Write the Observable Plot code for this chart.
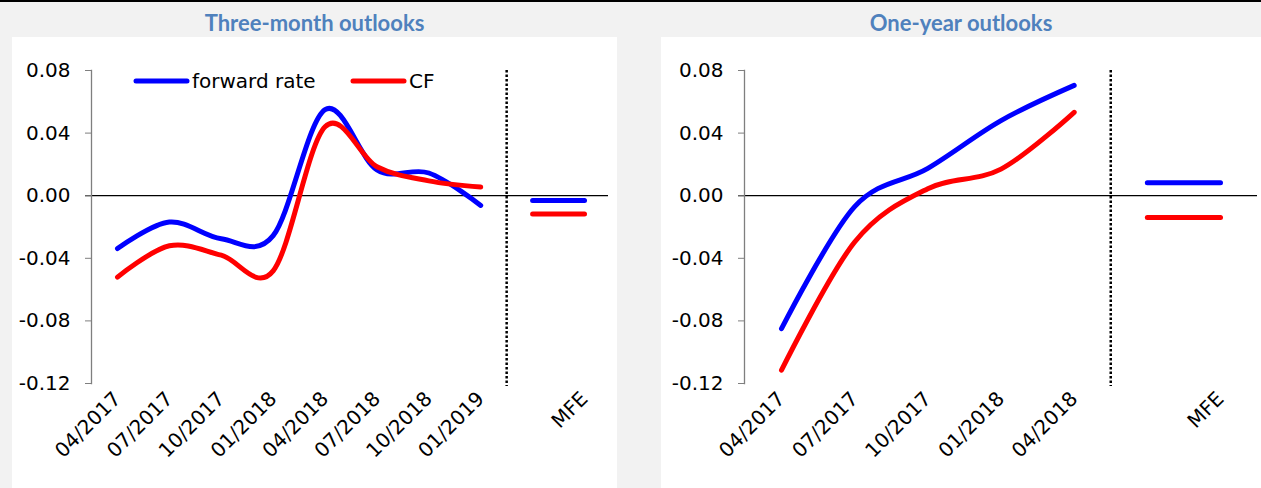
<!DOCTYPE html>
<html><head><meta charset="utf-8">
<script src="https://cdn.jsdelivr.net/npm/d3@7"></script>
<script src="https://cdn.jsdelivr.net/npm/@observablehq/plot@0.6"></script>
<style>
html,body{margin:0;padding:0;}
body{width:1261px;height:488px;background:#f2f2f2;position:relative;overflow:hidden;font-family:"DejaVu Sans",sans-serif;}
#topline{position:absolute;left:0;top:0;width:1261px;height:2px;background:#000;}
.panel{position:absolute;top:37px;height:451px;background:#fff;}
.title{position:absolute;top:8px;height:30px;line-height:30px;text-align:center;font-family:Lato,"Open Sans",sans-serif;font-weight:bold;color:#4f81bd;font-size:22px;}
.legend{position:absolute;left:121px;top:32px;display:flex;font-family:"DejaVu Sans",sans-serif;font-size:20px;color:#000;}
.legend .item{display:flex;align-items:center;width:217px;}
.legend svg{display:block;margin-right:2px;}
svg text{font-family:"DejaVu Sans",sans-serif;}
</style>
</head><body>
<div id="topline"></div>
<div class="title" id="t1" style="left:12px;width:605px;"></div>
<div class="title" id="t2" style="left:661px;width:600px;"></div>
<div class="panel" id="p1" style="left:12px;width:605px;"></div>
<div class="panel" id="p2" style="left:661px;width:600px;"></div>
<script>
// ---- data ----
const titles = ["Three-month outlooks", "One-year outlooks"];
const seriesNames = ["forward rate", "CF"];
const seriesColors = ["#0000ff", "#ff0000"];
const yTicks = [-0.12, -0.08, -0.04, 0, 0.04, 0.08];
const mfeLabel = "MFE";

const dates3m = ["04/2017","07/2017","10/2017","01/2018","04/2018","07/2018","10/2018","01/2019"];
const forward3m = [-0.0338, -0.0168, -0.0275, -0.0255, 0.0550, 0.0165, 0.0145, -0.0062];
const cf3m      = [-0.0520, -0.0320, -0.0380, -0.0480, 0.0440, 0.0185, 0.0095, 0.0055];
const mfeForward3m = -0.0030;
const mfeCf3m = -0.0117;

const dates1y = ["04/2017","07/2017","10/2017","01/2018","04/2018"];
const forward1y = [-0.0850, -0.0070, 0.0175, 0.0480, 0.0705];
const cf1y      = [-0.1115, -0.0296, 0.0045, 0.0170, 0.0533];
const mfeForward1y = 0.0083;
const mfeCf1y = -0.0140;

// ---- chart builder ----
function chart({dates, fwd, cf, mfeF, mfeC, width, marginLeft, marginRight, xRange}) {
  const n = dates.length;
  const labels = [...dates, "", mfeLabel];
  const rows = [];
  dates.forEach((d, i) => {
    rows.push({i, v: fwd[i], s: seriesNames[0]});
    rows.push({i, v: cf[i], s: seriesNames[1]});
  });
  const mfeRows = [
    {i: n, v: mfeF, s: seriesNames[0]}, {i: n + 1, v: mfeF, s: seriesNames[0]},
    {i: n, v: mfeC, s: seriesNames[1]}, {i: n + 1, v: mfeC, s: seriesNames[1]}
  ];
  return Plot.plot({
    width, height: 451,
    marginTop: 33, marginBottom: 105, marginLeft, marginRight,
    style: {fontFamily: "DejaVu Sans, sans-serif", fontSize: "20px", color: "#000", background: "transparent", overflow: "visible"},
    x: {type: "linear", domain: [0, n + 1], range: xRange},
    y: {domain: [-0.12, 0.08]},
    color: {domain: seriesNames, range: seriesColors},
    marks: [
      Plot.ruleX([n - 0.5], {stroke: "#000", strokeWidth: 2.5, strokeDasharray: "2.5,2", insetBottom: -3}),
      Plot.ruleY([0], {stroke: "#000", strokeWidth: 1.3, insetLeft: -6}),
      Plot.frame({anchor: "left", stroke: "#7f7f7f", strokeWidth: 1.3}),
      Plot.axisY({ticks: yTicks, tickSize: 6, tickPadding: 15, tickFormat: d => d.toFixed(2), stroke: "#7f7f7f", fill: "#000", label: null}),
      Plot.axisX({ticks: labels.map((_, i) => i), tickFormat: i => labels[i], tickRotate: -45, tickSize: 0, tickPadding: 12, fill: "#000", label: null}),
      Plot.line(rows, {x: "i", y: "v", z: "s", stroke: "s", strokeWidth: 5, curve: "cardinal", strokeLinecap: "round"}),
      Plot.line(mfeRows, {x: "i", y: "v", z: "s", stroke: "s", strokeWidth: 5, strokeLinecap: "round"})
    ]
  });
}

document.getElementById("t1").textContent = titles[0];
document.getElementById("t2").textContent = titles[1];

const p1 = document.getElementById("p1");
p1.appendChild(chart({dates: dates3m, fwd: forward3m, cf: cf3m, mfeF: mfeForward3m, mfeC: mfeCf3m,
  width: 605, marginLeft: 79, marginRight: 9, xRange: [105, 572]}));
const p2 = document.getElementById("p2");
p2.appendChild(chart({dates: dates1y, fwd: forward1y, cf: cf1y, mfeF: mfeForward1y, mfeC: mfeCf1y,
  width: 600, marginLeft: 83, marginRight: 4, xRange: [120, 559]}));

// legend (left panel)
const lg = document.createElement("div");
lg.className = "legend";
seriesNames.forEach((name, k) => {
  const item = document.createElement("div");
  item.className = "item";
  item.innerHTML = `<svg width="57" height="8"><line x1="3" y1="4" x2="54" y2="4" stroke="${seriesColors[k]}" stroke-width="5" stroke-linecap="round"/></svg><span>${name}</span>`;
  lg.appendChild(item);
});
p1.appendChild(lg);
</script>
</body></html>
